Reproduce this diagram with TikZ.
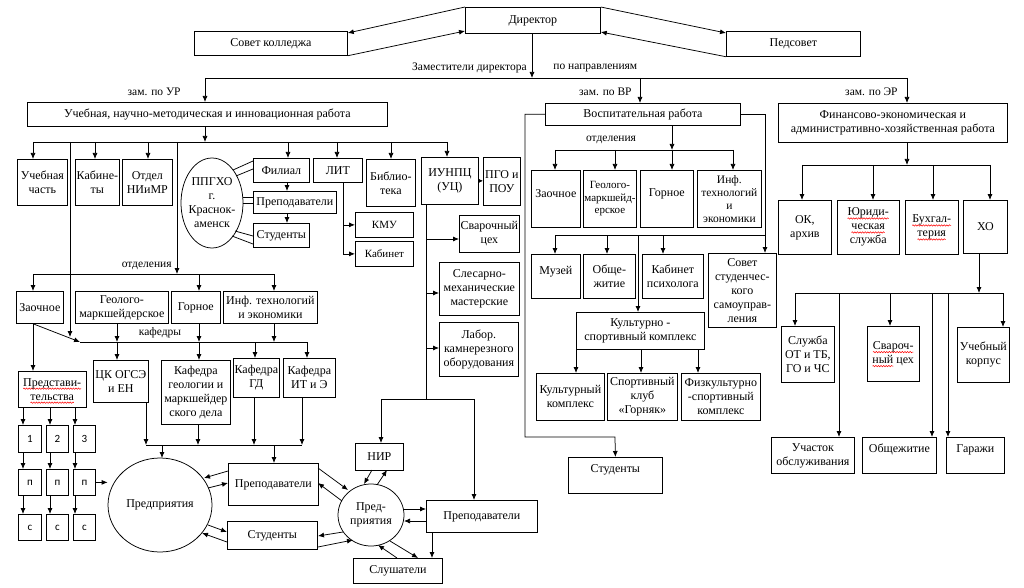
\documentclass[tikz,border=0pt]{standalone}
\usepackage{fontspec}
\setmainfont{Liberation Serif}
\newfontfamily\numfnt{Carlito}
\usetikzlibrary{arrows.meta,shapes.geometric,decorations.pathmorphing}
\newsavebox\wvbox
\newlength\wvlen
\newcommand\rwave[1]{\sbox\wvbox{#1}\setlength\wvlen{\wd\wvbox}\rlap{\tikz[overlay,x=1pt,y=1pt]\draw[red,line width=0.5pt,decorate,decoration={snake,amplitude=0.7pt,segment length=2.6pt}] (0pt,-2.6pt) -- (\wvlen,-2.6pt);}\usebox\wvbox}
\newcommand\rz[2]{\raisebox{#1}[\height][\depth]{#2}}
\newcommand\bx[7][]{\node[box,anchor=north west,minimum width={#5pt-#3pt},minimum height={#6pt-#4pt},#1] (#2) at (#3,#4) {#7};}
\newcommand\dn[3]{\draw[arr] (#1,#2) -- (#1,#2 |- #3.north);}
\begin{document}
\begin{tikzpicture}[x=1pt,y=-1pt,line width=0.75pt,
  box/.style={draw,align=center,inner sep=1pt,font=\fontsize{12}{14}\selectfont},
  sm/.style={font=\fontsize{11}{12.5}\selectfont},
  arr/.style={-{Latex[length=6pt,width=5pt]}},
  lbl/.style={font=\fontsize{11.5}{13}\selectfont,inner sep=0pt},
  ell/.style={draw,ellipse,inner sep=0pt},
  etxt/.style={align=center,inner sep=0pt,font=\fontsize{12}{14}\selectfont},
  num/.style={font=\numfnt\fontsize{11}{13}\selectfont}]
\fill[white] (0,0) rectangle (1024,588);
\path[use as bounding box] (0,0) rectangle (1024,588);

% ---------- top ----------
\bx{dir}{465}{7}{600}{33}{Директор}
\bx{sovet}{194}{31}{347}{55}{Совет колледжа}
\bx{ped}{726}{31}{860}{56}{Педсовет}
\draw[arr] (dir.north west) -- ([yshift=-2pt]sovet.north east);
\draw[arr] (sovet.south east) -- ([yshift=-24pt]dir.north west);
\draw[arr] (dir.north east) -- ([yshift=-2pt]ped.north west);
\draw[arr] (ped.south west) -- ([yshift=-25pt]dir.north east);
\coordinate (bz) at (532,78);
\draw[arr] (dir.south -| bz) -- (bz);
\draw (205,78) -- (907,78);
\node[lbl,anchor=east] (zd) at (527,68) {Заместители директора};
\node[lbl,anchor=west] (pn) at (553,68) {по направлениям};
\node[lbl,anchor=east] (zur) at (181,92) {зам. по УР};
\node[lbl,anchor=east] (zvr) at (632,92) {зам. по ВР};
\node[lbl,anchor=east] (zer) at (898,92) {зам. по ЭР};

\bx{ur}{27}{102}{387}{126}{Учебная, научно-методическая и инновационная работа}
\bx{vr}{545}{103}{740}{125}{Воспитательная работа}
\bx{fin}{778}{103}{1007}{142}{Финансово-экономическая и\\административно-хозяйственная работа}
\dn{205}{78}{ur}
\dn{640}{78}{vr}
\dn{907}{78}{fin}

% ---------- UR ----------
\draw[arr] (205,0 |- ur.south) -- (205,142);
\draw (33,142) -- (447,142);
\bx{uchch}{17}{159}{67}{205}{Учебная\\часть}
\bx{kab}{75}{159}{119}{205}{Кабине-\\ты}
\bx{otd}{122}{159}{172}{205}{Отдел\\НИиМР}
\dn{33}{142}{uchch}
\dn{95}{142}{kab}
\dn{148}{142}{otd}

\node[ell,minimum width=62pt,minimum height=90pt,label={[etxt]center:{ППГХО\\г.\\Краснок-\\аменск}}] (ppg) at (212,203) {};
\bx{fil}{253}{158}{309}{182}{Филиал}
\bx{prepf}{253}{191}{336}{213}{Преподаватели}
\bx{studf}{253}{223}{309}{247}{Студенты}
\dn{288}{142}{fil}
\draw[arr] (287,0 |- fil.south) -- (287,0 |- prepf.north);
\draw[arr] (287,0 |- prepf.south) -- (287,0 |- studf.north);
\draw (233,170) -- ([yshift=-3pt]fil.north west);
\draw (236,176) -- ([yshift=-11pt]fil.north west);
\draw (243,197) -- (243,197 -| prepf.west);
\draw (243,203) -- (243,203 -| prepf.west);
\draw (235,231) -- ([yshift=-13pt]studf.north west);
\draw (232,236) -- ([yshift=-21pt]studf.north west);

\bx{lit}{313}{158}{362}{182}{ЛИТ}
\dn{337}{142}{lit}
\bx[sm]{kmu}{355}{212}{413}{237}{КМУ}
\bx[sm]{kabl}{355}{241}{413}{266}{Кабинет}
\draw (343,0 |- lit.south) -- (343,0 |- kabl.west);
\draw[arr] (343,0 |- kmu.west) -- (kmu.west);
\draw[arr] (343,0 |- kabl.west) -- (kabl.west);

\bx{bib}{366}{159}{415}{206}{Библио-\\тека}
\dn{391}{142}{bib}
\bx{iun}{421}{157}{478}{204}{ИУНПЦ\\(УЦ)}
\dn{447}{142}{iun}
\bx[inner sep=0pt]{pgo}{483}{157}{520}{205}{ПГО и\\ПОУ}
\draw[-{Latex[length=5pt,width=5pt]}] (iun.east) -- (iun.east -| pgo.west);

\bx{svar}{459}{215}{519}{252}{Сварочный\\цех}
\bx{sles}{439}{262}{519}{315}{Слесарно-\\механические\\мастерские}
\bx{lab}{439}{322}{518}{376}{Лабор.\\камнерезного\\оборудования}
\draw (426,0 |- iun.south) -- (426,399);
\draw[arr] (426,239) -- (426,239 -| svar.west);
\draw[arr] (426,293) -- (426,293 -| sles.west);
\draw[arr] (426,348) -- (426,348 -| lab.west);

% отделения UR
\draw[arr] (177,142) -- (177,274);
\node[lbl,anchor=east] (otdur) at (172,266) {отделения};
\draw (33,274) -- (274,274);
\bx{zao}{16}{291}{63}{323}{Заочное}
\bx{geo}{75}{291}{168}{323}{Геолого-\\маркшейдерское}
\bx{gor}{171}{291}{220}{323}{Горное}
\bx{inf}{223}{291}{317}{323}{Инф. технологий\\и экономики}
\dn{33}{274}{zao}
\dn{199}{274}{gor}
\dn{274}{274}{inf}

% кафедры
\draw[arr] (70,142) -- (70,337);
\draw[arr] (33,0 |- zao.south) -- (80,342);
\draw (80,342) -- (307,342);
\node[lbl] (kaf) at (160,333) {кафедры};
\draw[arr] (117,0 |- geo.south) -- (117,342);
\draw[arr] (199,0 |- gor.south) -- (199,342);
\draw[arr] (274,0 |- inf.south) -- (274,342);
\bx{ck}{93}{360}{148}{402}{ЦК ОГСЭ\\и ЕН}
\bx{kgeo}{161}{360}{230}{424}{Кафедра\\геологии и\\маркшейдер\\ского дела}
\bx{kgd}{233}{358}{279}{397}{Кафедра\\ГД}
\bx{kit}{283}{358}{335}{397}{Кафедра\\ИТ и Э}
\dn{117}{342}{ck}
\dn{199}{342}{kgeo}
\dn{255}{342}{kgd}
\dn{307}{342}{kit}
\draw[arr] (146,0 |- ck.south) -- (146,445);
\draw[arr] (198,0 |- kgeo.south) -- (198,445);
\draw[arr] (254,0 |- kgd.south) -- (254,445);
\draw[arr] (302,0 |- kit.south) -- (302,445);
\draw (146,445) -- (302,445);

% представительства
\bx{pred}{18}{371}{86}{407}{\rwave{Представи-}\\\rwave{тельства}}
\draw[arr] (33,0 |- zao.south) -- (33,0 |- pred.north);
\bx[num]{n1}{18}{425}{41}{452}{1}
\bx[num]{n2}{46}{425}{68}{452}{2}
\bx[num]{n3}{73}{425}{95}{452}{3}
\bx[num]{p1}{18}{469}{41}{495}{п}
\bx[num]{p2}{46}{469}{68}{495}{п}
\bx[num]{p3}{73}{469}{95}{495}{п}
\bx[num]{c1}{18}{514}{41}{540}{с}
\bx[num]{c2}{46}{514}{68}{540}{с}
\bx[num]{c3}{73}{514}{95}{540}{с}
\dn{23}{407}{n1}
\dn{50}{407}{n2}
\dn{75}{407}{n3}
\dn{23}{452}{p1}
\dn{50}{452}{p2}
\dn{75}{452}{p3}
\dn{23}{495}{c1}
\dn{50}{495}{c2}
\dn{75}{495}{c3}

% предприятия
\node[ell,minimum width=104pt,minimum height=94pt,label={[etxt]center:Предприятия}] (ent) at (160,505) {};
\draw[arr] (p3.east) -- (p3.east -| ent.west);
\draw[arr] (162,445) -- (162,458);
\bx{prepl}{228}{463}{318}{505}{Преподаватели}
\bx{studl}{227}{521}{317}{549}{Студенты}
\dn{274}{445}{prepl}
\draw[arr] (228,471) -- (204,478);
\draw[arr] (208,488) -- (228,483);
\draw[arr] (208,525) -- (227,532);
\draw[arr] (227,542) -- (202,533);

\node[ell,minimum width=66pt,minimum height=62pt,label={[etxt]center:{Пред-\\приятия}}] (ent2) at (371,515) {};
\bx{nir}{355}{443}{403}{470}{НИР}
\bx{prepr}{426}{500}{537}{532}{Преподаватели}
\bx{slush}{353}{558}{442}{583}{Слушатели}
\draw (381,399) -- (474,399);
\dn{381}{399}{nir}
\dn{474}{399}{prepr}
\draw[arr] (318,468) -- (348,490);
\draw[arr] (342,501) -- (318,483);
\draw[arr] (343,532) -- (318,536);
\draw[arr] (318,547) -- (353,540);
\draw[arr] (372,470) -- (364,484);
\draw[arr] (377,485) -- (387,470);
\draw[arr] (404,509) -- (426,509);
\draw[arr] (426,521) -- (404,521);
\draw[arr] (397,558) -- (378,545);
\draw[arr] (390,541) -- (418,558);
\draw[arr] (432,532) -- (432,558);

% ---------- VR ----------
\bx{studvr}{568}{457}{662}{493}{\rz{6pt}{Студенты}}
\draw[arr] (vr.west) -- (525,0 |- vr.west) -- (525,437) -- (615,437) -- (studvr.north);
\bx{sovst}{708}{253}{776}{327}{Совет\\студенчес-\\кого\\самоуправ-\\ления}
\draw[arr] (vr.east) -- (765,0 |- vr.east) -- (765,0 |- sovst.north);
\draw[arr] (672,0 |- vr.south) -- (672,150);
\node[lbl] (otdvr) at (611,140) {отделения};
\draw (555,150) -- (733,150);
\bx{zaov}{531}{170}{580}{227}{\rz{5pt}{Заочное}}
\bx[sm]{geov}{583}{170}{635}{227}{Геолого-\\маркшейд-\\ерское}
\bx{gorv}{640}{170}{693}{227}{\rz{5pt}{Горное}}
\bx[font=\fontsize{11.5}{13}\selectfont]{infv}{697}{170}{761}{227}{Инф.\\технологий\\и\\экономики}
\dn{555}{150}{zaov}
\dn{615}{150}{geov}
\dn{672}{150}{gorv}
\dn{733}{150}{infv}
\draw (555,235) -- (765,235);
\bx{muz}{531}{254}{580}{298}{\rz{5pt}{Музей}}
\bx{obsh}{583}{254}{635}{298}{Обще-\\житие}
\bx{kabp}{642}{254}{703}{298}{Кабинет\\психолога}
\dn{555}{235}{muz}
\dn{607}{235}{obsh}
\dn{663}{235}{kabp}
\bx{cks}{576}{312}{704}{349}{Культурно -\\спортивный комплекс}
\dn{638}{235}{cks}
\bx{kult}{536}{373}{604}{420}{Культурный\\комплекс}
\bx{sport}{607}{373}{677}{420}{Спортивный\\клуб\\«Горняк»}
\bx{fiz}{681}{373}{760}{420}{Физкультурно\\-спортивный\\комплекс}
\draw[arr] (576,0 |- cks.south) -- (576,0 |- kult.north);
\draw[arr] (641,0 |- cks.south) -- (641,0 |- sport.north);
\draw[arr] (698,0 |- cks.south) -- (698,0 |- fiz.north);

% ---------- ER ----------
\draw[arr] (907,0 |- fin.south) -- (907,165);
\draw (802,165) -- (990,165);
\bx{okar}{778}{200}{831}{254}{ОК,\\архив}
\bx{jur}{837}{200}{899}{254}{\rwave{Юриди-}\\\rwave{ческая}\\служба}
\bx{buh}{905}{200}{958}{254}{\rwave{Бухгал-}\\\rwave{терия}}
\bx{ho}{963}{200}{1007}{253}{ХО}
\dn{802}{165}{okar}
\dn{873}{165}{jur}
\dn{933}{165}{buh}
\dn{990}{165}{ho}
\draw[arr] (979,0 |- ho.south) -- (979,293);
\draw (795,293) -- (1003,293);
\bx{slot}{781}{326}{834}{382}{Служба\\ОТ и ТБ,\\ГО и ЧС}
\bx{svh}{867}{326}{919}{381}{\rwave{Свароч-}\\\rwave{ный} цех}
\bx{ukor}{957}{327}{1009}{382}{Учебный\\корпус}
\bx{uchob}{771}{437}{854}{473}{Участок\\обслуживания}
\bx{obh}{862}{437}{936}{473}{\rz{6pt}{Общежитие}}
\bx{gar}{946}{437}{1004}{473}{\rz{6pt}{Гаражи}}
\dn{795}{293}{slot}
\dn{890}{293}{svh}
\dn{1003}{293}{ukor}
\dn{839}{293}{uchob}
\dn{932}{293}{obh}
\dn{948}{293}{gar}
\end{tikzpicture}
\end{document}
